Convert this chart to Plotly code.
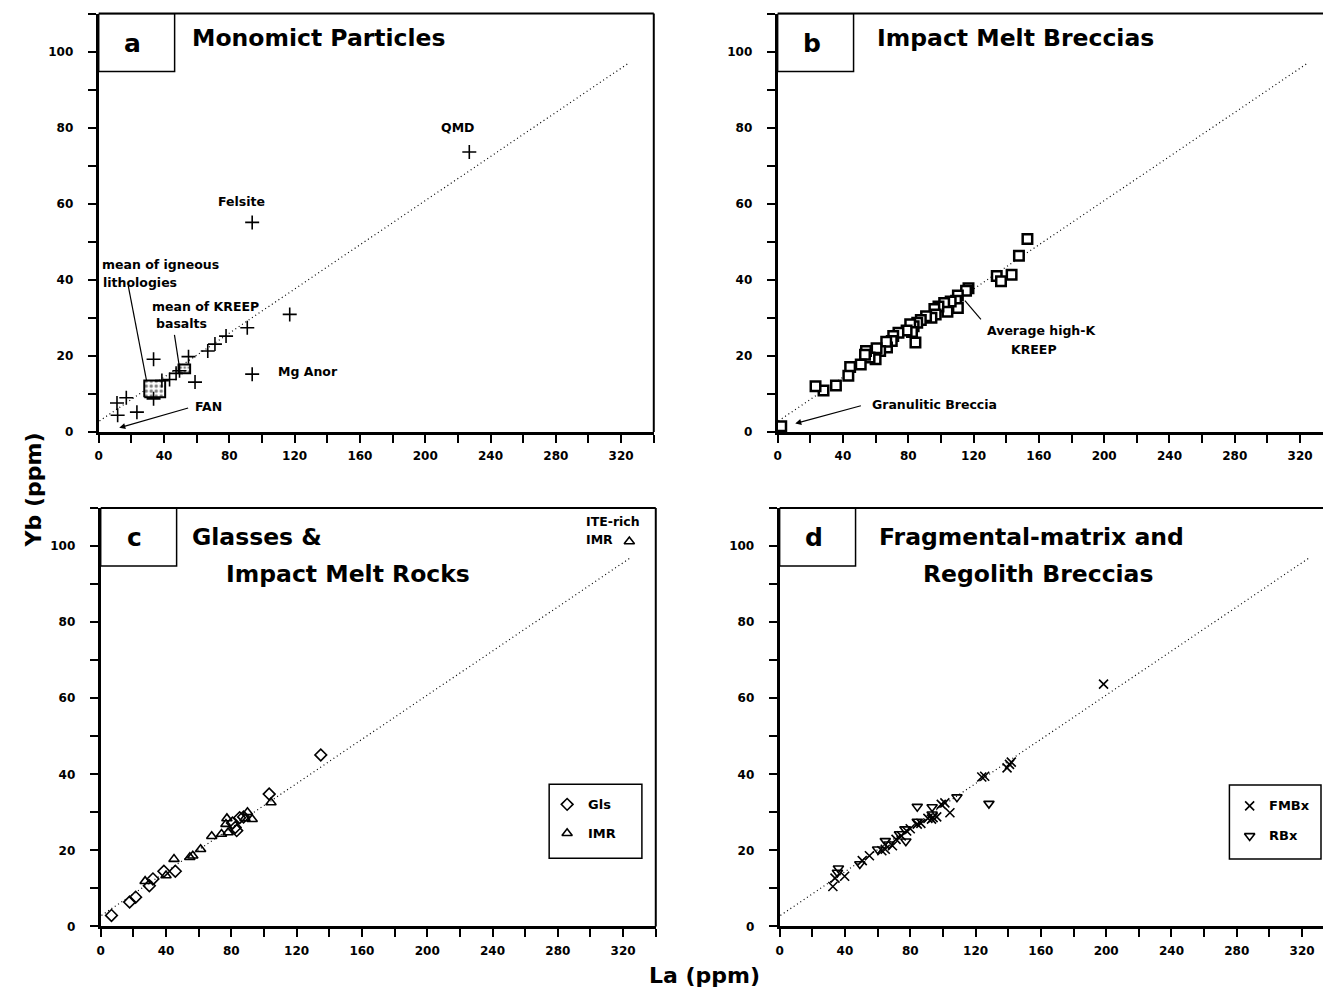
import plotly.graph_objects as go

W, H = 1323, 994
FONT = "DejaVu Sans"
BLACK = "black"

# ---------------- data: La (ppm) vs Yb (ppm) ----------------
# a) monomict particles
mono_la = [11.2, 16.9, 11.6, 23.4, 33.6, 33.6, 38.7, 43.4, 47.4, 49.5,
           55.0, 59.0, 66.8, 71.2, 78.0, 91.0, 94.0, 117.0, 94.0, 227.0]
mono_yb = [7.6, 9.0, 4.4, 5.2, 19.1, 8.7, 13.5, 13.8, 15.4, 16.1,
           19.8, 13.1, 21.3, 23.1, 25.2, 27.4, 15.2, 30.9, 55.1, 73.6]
igneous_mean_la = [27.9, 40.7]   # extent of the igneous-lithology mean
igneous_mean_yb = [9.1, 13.5]
kreep_mean_la = [48.9, 56.0]     # extent of the KREEP-basalt mean
kreep_mean_yb = [15.4, 17.7]

# b) impact melt breccias
imb_la = [153.0, 147.8, 143.3, 134.2, 136.8, 116.9, 115.4, 110.4, 109.3, 110.4,
          106.0, 102.0, 104.0, 98.5, 96.0, 96.8, 94.2, 90.9, 87.7, 85.5,
          83.3, 81.2, 82.3, 79.0, 84.4, 74.0, 70.8, 69.9, 67.0, 66.5,
          62.8, 60.6, 60.0, 56.3, 54.1, 53.5, 50.9, 44.4, 43.3, 35.7,
          28.1, 23.2, 2.2]
imb_yb = [50.7, 46.3, 41.3, 41.0, 39.6, 37.8, 37.1, 35.9, 34.5, 32.6,
          34.3, 33.9, 31.6, 33.0, 32.3, 30.9, 30.0, 30.4, 29.4, 28.7,
          27.8, 28.3, 26.3, 26.7, 23.5, 26.1, 25.2, 23.9, 22.2, 23.7,
          21.3, 22.0, 19.1, 19.6, 21.3, 20.3, 17.7, 17.1, 14.8, 12.2,
          10.9, 12.0, 1.5]

# c) glasses and impact melt rocks
gls_la = [134.8, 103.2, 85.1, 82.4, 80.7, 83.3, 87.5, 45.7, 38.7, 32.0,
          29.8, 21.4, 17.7, 6.6]
gls_yb = [45.1, 34.8, 28.6, 26.0, 27.2, 25.2, 28.8, 14.5, 14.5, 12.5,
          10.7, 7.7, 6.4, 2.9]
imr_la = [323.8, 104.3, 89.9, 92.8, 88.4, 77.3, 76.7, 78.0, 74.0, 68.0,
          61.2, 56.4, 54.6, 44.9, 40.0, 27.2]
imr_yb = [101.2, 32.6, 30.0, 28.2, 28.4, 28.4, 26.9, 24.7, 24.3, 23.7,
          20.3, 18.6, 18.2, 17.7, 13.4, 11.9]

# d) fragmental-matrix and regolith breccias
fmbx_la = [198.4, 140.8, 139.3, 141.9, 125.6, 123.8, 104.3, 101.2, 99.0, 96.2,
           94.0, 93.0, 90.8, 86.5, 84.3, 80.0, 77.8, 74.5, 71.3, 69.1,
           64.7, 62.6, 55.0, 50.6, 39.8, 33.9, 32.6]
fmbx_yb = [63.7, 42.6, 41.7, 43.2, 39.5, 39.3, 29.9, 32.5, 32.1, 28.8,
           28.6, 28.2, 28.4, 27.1, 26.9, 25.7, 25.1, 23.8, 22.9, 21.2,
           20.3, 19.9, 18.6, 17.3, 13.2, 12.7, 10.5]
rbx_la = [128.2, 108.6, 84.3, 93.4, 93.4, 84.3, 76.7, 77.3, 73.4, 64.7,
          66.9, 60.0, 49.1, 36.0, 35.4]
rbx_yb = [32.3, 34.0, 31.5, 31.4, 29.5, 27.6, 25.6, 22.4, 24.3, 22.5,
          21.6, 20.3, 16.4, 15.3, 14.2]

# reference trend drawn in every panel
trend_la = [0.5, 324.0]
trend_yb = [2.9, 96.8]

# legend key entries (symbol, label)
legend_c = [("diamond-open", "Gls"), ("triangle-up-open", "IMR")]
legend_d = [("x-thin-open", "FMBx"), ("triangle-down-open", "RBx")]

# ---------------- panel geometry ----------------
PX_X = 1.6375   # pixels per ppm La
PX_Y = 3.83     # pixels per ppm Yb
YMAX = 110

panels = {
    "a": dict(ax="", left=95, bottom=435, xmax=340, right_frame=True),
    "b": dict(ax="2", left=776, bottom=435, xmax=(W - 776) / PX_X, right_frame=False),
    "c": dict(ax="3", left=97, bottom=933, xmax=340, right_frame=True),
    "d": dict(ax="4", left=778, bottom=933, xmax=(W - 778) / PX_X, right_frame=False),
}

fig = go.Figure()
shapes = []
annotations = []
tickfont = dict(family=FONT, size=12, color=BLACK, weight="bold")

for key, p in panels.items():
    s = p["ax"]
    xd = [p["left"] / W, min(1.0, (p["left"] + p["xmax"] * PX_X) / W)]
    yd = [1 - p["bottom"] / H, 1 - (p["bottom"] - YMAX * PX_Y) / H]
    fig.update_layout(**{
        "xaxis" + s: dict(
            domain=xd, range=[0, p["xmax"]], anchor="y" + s,
            showline=True, linewidth=3, linecolor=BLACK,
            ticks="outside", ticklen=8, tickwidth=1.5, tickcolor=BLACK,
            tick0=0, dtick=40,
            minor=dict(ticks="outside", ticklen=8, tickwidth=1.5,
                       tickcolor=BLACK, tick0=0, dtick=20),
            showgrid=False, zeroline=False, tickfont=tickfont,
            ticklabelstandoff=3),
        "yaxis" + s: dict(
            domain=yd, range=[0, YMAX], anchor="x" + s,
            showline=True, linewidth=3, linecolor=BLACK,
            ticks="outside", ticklen=8, tickwidth=1.5, tickcolor=BLACK,
            tick0=0, dtick=20,
            minor=dict(ticks="outside", ticklen=8, tickwidth=1.5,
                       tickcolor=BLACK, tick0=0, dtick=10),
            showgrid=False, zeroline=False, tickfont=tickfont,
            ticklabelstandoff=12),
    })
    xr, yr = "x" + s, "y" + s
    # top (and right) frame
    shapes.append(dict(type="line", xref=xr + " domain", yref=yr + " domain",
                       x0=0, x1=1, y0=1, y1=1, line=dict(color=BLACK, width=2)))
    if p["right_frame"]:
        shapes.append(dict(type="line", xref=xr + " domain", yref=yr + " domain",
                           x0=1, x1=1, y0=0, y1=1, line=dict(color=BLACK, width=2)))
    # panel letter box
    shapes.append(dict(type="rect", xref=xr, yref=yr, x0=0, x1=46.5, y0=94.8, y1=YMAX,
                       line=dict(color=BLACK, width=1.5)))
    annotations.append(dict(xref=xr, yref=yr, x=21, y=102.2, text=key, showarrow=False,
                            font=dict(family=FONT, size=25, color=BLACK, weight="bold")))
    # trend line
    fig.add_trace(go.Scatter(x=trend_la, y=trend_yb, mode="lines", xaxis=xr, yaxis=yr,
                             line=dict(color=BLACK, width=1.2, dash="1px,3px"),
                             showlegend=False, hoverinfo="skip"))


def title(ax, text, x, y, anchor="left"):
    annotations.append(dict(xref="x" + ax, yref="y" + ax, x=x, y=y, text=text,
                            showarrow=False, xanchor=anchor, yanchor="middle",
                            font=dict(family=FONT, size=23.5, color=BLACK, weight="bold")))


def note(ax, text, x, y, anchor="center", size=12.5):
    annotations.append(dict(xref="x" + ax, yref="y" + ax, x=x, y=y, text=text,
                            showarrow=False, xanchor=anchor, yanchor="middle",
                            font=dict(family=FONT, size=size, color=BLACK, weight="bold")))


def leader(ax, x0, y0, x1, y1):
    shapes.append(dict(type="line", xref="x" + ax, yref="y" + ax,
                       x0=x0, y0=y0, x1=x1, y1=y1, line=dict(color=BLACK, width=1.2)))


def arrow(ax, tail_x, tail_y, head_x, head_y):
    annotations.append(dict(xref="x" + ax, yref="y" + ax, axref="x" + ax, ayref="y" + ax,
                            x=head_x, y=head_y, ax=tail_x, ay=tail_y, text="",
                            showarrow=True, arrowhead=2, arrowsize=1, arrowwidth=1.2,
                            arrowcolor=BLACK))


def box_trace(ax, xs, ys, pattern):
    fig.add_trace(go.Scatter(
        x=[xs[0], xs[1], xs[1], xs[0], xs[0]], y=[ys[0], ys[0], ys[1], ys[1], ys[0]],
        mode="lines", fill="toself", xaxis="x" + ax, yaxis="y" + ax,
        fillcolor="white", line=dict(color=BLACK, width=2),
        fillpattern=dict(shape=".", fgcolor=BLACK, bgcolor="white",
                         size=pattern, solidity=0.35),
        showlegend=False, hoverinfo="skip"))


# ---------------- panel a ----------------
box_trace("", igneous_mean_la, igneous_mean_yb, 5)
box_trace("", kreep_mean_la, kreep_mean_yb, 4)
fig.add_trace(go.Scatter(x=mono_la, y=mono_yb, mode="markers", xaxis="x", yaxis="y",
                         marker=dict(symbol="cross-thin", size=10,
                                     line=dict(color=BLACK, width=1.6)),
                         showlegend=False))
title("", "Monomict Particles", 56, 103.7)
note("", "QMD", 220, 80)
note("", "Felsite", 87.3, 60.6)
note("", "Mg Anor", 108.7, 15.8, anchor="left")
note("", "mean of igneous", 0.6, 44.0, anchor="left")
note("", "lithologies", 1.2, 39.4, anchor="left")
note("", "mean of KREEP", 31.4, 32.9, anchor="left")
note("", "basalts", 33.6, 28.4, anchor="left")
note("", "FAN", 57.9, 6.8, anchor="left")
leader("", 18.1, 38.4, 29.3, 13.5)
leader("", 46.4, 25.5, 49.2, 17.7)
arrow("", 55.7, 6.4, 12.6, 1.1)

# ---------------- panel b ----------------
fig.add_trace(go.Scatter(x=imb_la, y=imb_yb, mode="markers", xaxis="x2", yaxis="y2",
                         marker=dict(symbol="square", size=9.5, color="white",
                                     line=dict(color=BLACK, width=2.5)),
                         showlegend=False))
title("2", "Impact Melt Breccias", 59.5, 103.7)
note("2", "Average high-K", 161.7, 26.7)
note("2", "KREEP", 157.0, 21.7)
leader("2", 114.7, 34.5, 124.5, 29.6)
note("2", "Granulitic Breccia", 56.3, 7.2, anchor="left")
arrow("2", 51.9, 7.0, 10.8, 2.2)

# ---------------- panel c ----------------
fig.add_trace(go.Scatter(x=gls_la, y=gls_yb, mode="markers", xaxis="x3", yaxis="y3",
                         marker=dict(symbol="diamond-open", size=9, color=BLACK,
                                     line=dict(color=BLACK, width=1.6)),
                         showlegend=False))
fig.add_trace(go.Scatter(x=imr_la, y=imr_yb, mode="markers", xaxis="x3", yaxis="y3",
                         marker=dict(symbol="triangle-up-open", size=9, color=BLACK,
                                     line=dict(color=BLACK, width=1.6)),
                         showlegend=False))
title("3", "Glasses &", 54.5, 102.4)
title("3", "Impact Melt Rocks", 75.5, 92.8)
note("3", "ITE-rich", 296.0, 106.6, anchor="left")
note("3", "IMR", 296.0, 101.7, anchor="left")


def key_box(ax, entries, x_box, y_box, x_sym, x_txt, y_rows):
    shapes.append(dict(type="rect", xref="x" + ax, yref="y" + ax, layer="below",
                       x0=x_box[0], x1=x_box[1], y0=y_box[0], y1=y_box[1],
                       line=dict(color=BLACK, width=1.5), fillcolor="white"))
    for (sym, label), yy in zip(entries, y_rows):
        fig.add_trace(go.Scatter(x=[x_sym], y=[yy], mode="markers",
                                 xaxis="x" + ax, yaxis="y" + ax,
                                 marker=dict(symbol=sym, size=9, color=BLACK,
                                             line=dict(color=BLACK, width=1.6)),
                                 showlegend=False, hoverinfo="skip"))
        note(ax, label, x_txt, yy, anchor="left", size=13)


key_box("3", legend_c, (274.7, 331.5), (17.9, 37.4), 285.7, 297.2, (32.1, 24.5))

# ---------------- panel d ----------------
fig.add_trace(go.Scatter(x=fmbx_la, y=fmbx_yb, mode="markers", xaxis="x4", yaxis="y4",
                         marker=dict(symbol="x-thin", size=9,
                                     line=dict(color=BLACK, width=1.6)),
                         showlegend=False))
fig.add_trace(go.Scatter(x=rbx_la, y=rbx_yb, mode="markers", xaxis="x4", yaxis="y4",
                         marker=dict(symbol="triangle-down-open", size=9, color=BLACK,
                                     line=dict(color=BLACK, width=1.6)),
                         showlegend=False))
title("4", "Fragmental-matrix and", 154.4, 102.4, anchor="center")
title("4", "Regolith Breccias", 158.2, 92.8, anchor="center")
key_box("4", legend_d, (275.5, 331.6), (17.7, 37.2), 287.9, 298.3, (31.7, 23.8))

# ---------------- shared axis titles ----------------
annotations.append(dict(xref="paper", yref="paper", x=30 / W, y=1 - 493 / H,
                        text="Yb (ppm)", textangle=-90, showarrow=False,
                        xanchor="center", yanchor="middle",
                        font=dict(family=FONT, size=22, color=BLACK, weight="bold")))
annotations.append(dict(xref="paper", yref="paper", x=703 / W, y=1 - 982 / H,
                        text="La (ppm)", showarrow=False,
                        xanchor="center", yanchor="middle",
                        font=dict(family=FONT, size=22, color=BLACK, weight="bold")))

fig.update_layout(
    width=W, height=H,
    margin=dict(l=0, r=0, t=0, b=0),
    paper_bgcolor="white", plot_bgcolor="white",
    shapes=shapes, annotations=annotations,
    showlegend=False,
)

fig.write_html("out.html")
